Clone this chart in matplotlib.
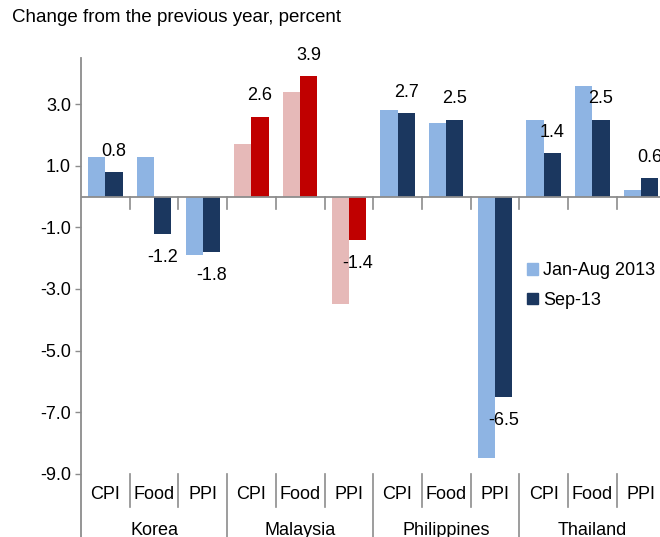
import numpy as np
import matplotlib
matplotlib.use("Agg")
import matplotlib.pyplot as plt
from matplotlib.patches import Patch

plt.rcParams["font.family"] = ["Liberation Sans", "DejaVu Sans"]

# data
countries = ["Korea", "Malaysia", "Philippines", "Thailand"]
measures = ["CPI", "Food", "PPI"]
jan_aug_2013 = [1.3, 1.3, -1.9, 1.7, 3.4, -3.5, 2.8, 2.4, -8.5, 2.5, 3.6, 0.2]
sep_13 = [0.8, -1.2, -1.8, 2.6, 3.9, -1.4, 2.7, 2.5, -6.5, 1.4, 2.5, 0.6]
y_ticks = [-9, -7, -5, -3, -1, 1, 3]

COLORS = {
    "light_blue": "#8EB4E3",
    "navy": "#1B375F",
    "pink": "#E6B9B8",
    "red": "#C00000",
    "axis": "#8C8C8C",
}

FS = 13

n_measures = len(measures)
n_cats = len(countries) * n_measures
x = np.arange(n_cats)
bar_w = 0.353

light_colors = []
dark_colors = []
for country in countries:
    for _ in measures:
        if country == "Malaysia":
            light_colors.append(COLORS["pink"])
            dark_colors.append(COLORS["red"])
        else:
            light_colors.append(COLORS["light_blue"])
            dark_colors.append(COLORS["navy"])

fig = plt.figure(figsize=(6.6, 5.37), dpi=100)
ax = fig.add_axes([81 / 660, 1 - 473.7 / 537, 584.4 / 660, 415.7 / 537])

ax.bar(x - bar_w / 2, jan_aug_2013, width=bar_w, color=light_colors, zorder=2)
ax.bar(x + bar_w / 2, sep_13, width=bar_w, color=dark_colors, zorder=2)

# data labels only for the Sep-13 series
for xi, val in zip(x, sep_13):
    offset = 15 if val >= 0 else -17
    ax.annotate(f"{val:.1f}", (xi + bar_w / 2, val), xytext=(0, offset),
                textcoords="offset points", ha="center", va="center", fontsize=FS)

ax.set_xlim(-0.5, n_cats - 0.5)
ax.set_ylim(-9, 4.5)
ax.set_yticks(y_ticks)
ax.set_yticklabels([f"{t:.1f}" for t in y_ticks], fontsize=FS)
ax.tick_params(axis="y", direction="out", length=4.3, width=1, color=COLORS["axis"], pad=3)
ax.set_xticks([])

for side in ["top", "right", "bottom", "left"]:
    ax.spines[side].set_visible(False)

# left axis line runs down through the category label area
ax.plot([0, 0], [1, -0.25], transform=ax.transAxes, color=COLORS["axis"],
        linewidth=1.3, clip_on=False, zorder=3)

# zero line with tick marks at category boundaries
ax.axhline(0, color=COLORS["axis"], linewidth=1.3, zorder=3)
trans = ax.get_xaxis_transform()
for b in np.arange(0.5, n_cats, 1.0):
    ax.plot([b, b], [0, -0.4], color=COLORS["axis"], linewidth=1.2, zorder=3)

# category labels and separators
for i, xi in enumerate(x):
    ax.text(xi, -0.0512, measures[i % n_measures], transform=trans,
            ha="center", va="center", fontsize=FS)
for b in np.arange(0.5, n_cats - 1, 1.0):
    is_group = int(b + 0.5) % n_measures == 0
    y_end = -0.25 if is_group else -0.0794
    ax.plot([b, b], [0, y_end], transform=trans, color=COLORS["axis"],
            linewidth=1.2, clip_on=False)
for g, country in enumerate(countries):
    center = g * n_measures + (n_measures - 1) / 2
    ax.text(center, -0.1355, country, transform=trans,
            ha="center", va="center", fontsize=FS)

handles = [Patch(color=COLORS["light_blue"], label="Jan-Aug 2013"),
           Patch(color=COLORS["navy"], label="Sep-13")]
fig.legend(handles=handles, loc="center left", bbox_to_anchor=(527 / 660, 1 - 285.5 / 537),
           frameon=False, fontsize=FS, handlelength=0.6, handleheight=0.6,
           handletextpad=0.3, labelspacing=0.7, borderpad=0, borderaxespad=0)

fig.text(12 / 660, 1 - 18 / 537, "Change from the previous year, percent",
         ha="left", va="center", fontsize=13.5)

fig.savefig("out.png", dpi=100)
